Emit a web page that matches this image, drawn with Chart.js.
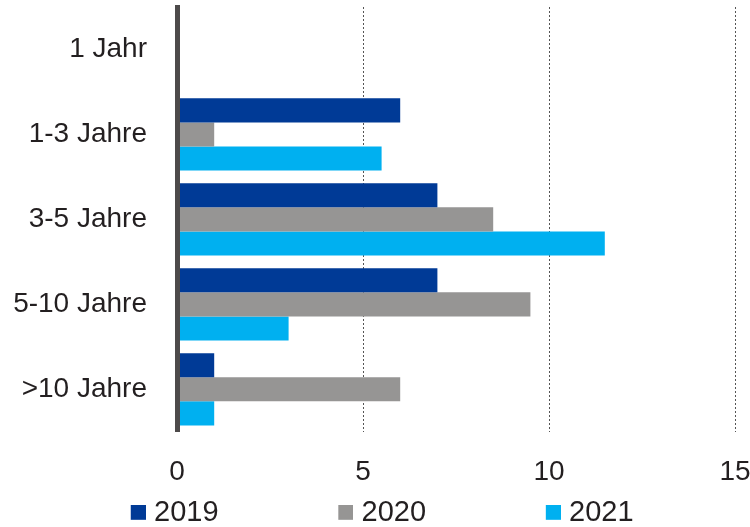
<!DOCTYPE html>
<html>
<head>
<meta charset="utf-8">
<script src="https://cdn.jsdelivr.net/npm/chart.js@4/dist/chart.umd.min.js"></script>
<style>
  html, body { margin: 0; padding: 0; background: #fff; }
  #wrap { width: 750px; height: 527px; }
</style>
</head>
<body>
<div id="wrap"><canvas id="barChart" width="750" height="527"></canvas></div>
<script>
const categories = ['1 Jahr', '1-3 Jahre', '3-5 Jahre', '5-10 Jahre', '>10 Jahre'];
const seriesNames = ['2019', '2020', '2021'];
const values2019 = [0, 6, 7, 7, 1];
const values2020 = [0, 1, 8.5, 9.5, 6];
const values2021 = [0, 5.5, 11.5, 3, 1];
const xTicks = [0, 5, 10, 15];

const colors = ['#003a96', '#969594', '#00b0f0'];
const font = "'Liberation Sans', Arial, sans-serif";

// legend marker: square sitting at the right end of a wide transparent image,
// so the legend items get spread out like in the original
const legendBoxWidth = 124.5;
function legendMarker(color) {
    const c = document.createElement('canvas');
    c.width = legendBoxWidth + 13;
    c.height = 17;
    const g = c.getContext('2d');
    g.fillStyle = color;
    g.fillRect(c.width - 15, 0, 15, 15);
    return c;
}

document.addEventListener("DOMContentLoaded", () => {
    const ctx = document.getElementById('barChart').getContext('2d');
    new Chart(ctx, {
        type: 'bar',
        data: {
            labels: categories,
            datasets: [
                { label: seriesNames[0], data: values2019, backgroundColor: colors[0] },
                { label: seriesNames[1], data: values2020, backgroundColor: colors[1] },
                { label: seriesNames[2], data: values2021, backgroundColor: colors[2] }
            ]
        },
        options: {
            indexAxis: 'y',
            responsive: false,
            animation: false,
            categoryPercentage: 0.85,
            barPercentage: 1,
            layout: { padding: { top: 7, right: 15, left: 11, bottom: -10.8 } },
            scales: {
                x: {
                    min: 0,
                    max: 15,
                    afterBuildTicks: (axis) => { axis.ticks = xTicks.map(v => ({ value: v })); },
                    afterFit: (axis) => {
                        axis.height = 63;
                        axis.paddingLeft = 0;
                        axis.paddingRight = 0;
                    },
                    grid: {
                        color: (c) => c.tick && c.tick.value === 0 ? 'rgba(0,0,0,0)' : '#555',
                        lineWidth: 1,
                        drawTicks: false
                    },
                    border: { display: false, dash: [2, 2] },
                    ticks: { color: '#231f20', font: { family: font, size: 28 }, padding: 24 }
                },
                y: {
                    afterFit: (axis) => {
                        axis.width = 166;
                        axis.paddingTop = 0;
                        axis.paddingBottom = 0;
                    },
                    grid: { display: false, drawTicks: false },
                    border: { display: true, color: '#4d4a4a', width: 5, z: 1 },
                    ticks: { color: '#231f20', font: { family: font, size: 28 }, padding: 30 }
                }
            },
            plugins: {
                legend: {
                    position: 'bottom',
                    align: 'start',
                    labels: {
                        color: '#231f20',
                        font: { family: font, size: 29 },
                        usePointStyle: true,
                        pointStyleWidth: legendBoxWidth,
                        boxHeight: 15,
                        padding: 4,
                        generateLabels: (chart) => {
                            const items = Chart.defaults.plugins.legend.labels.generateLabels(chart);
                            items.forEach((item, i) => { item.pointStyle = legendMarker(colors[i]); });
                            return items;
                        }
                    }
                },
                tooltip: { enabled: false }
            }
        }
    });
});
</script>
</body>
</html>
